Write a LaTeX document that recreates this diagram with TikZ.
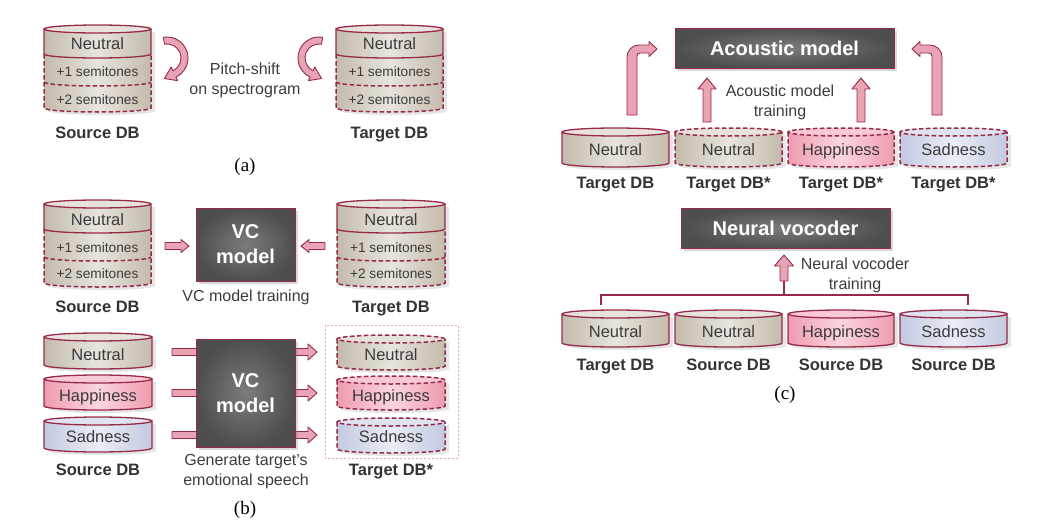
\documentclass[tikz,border=0pt]{standalone}
\usepackage{fontspec}
\setmainfont{Liberation Sans}
\newfontfamily\capfont{Liberation Serif}
\usetikzlibrary{calc,shadows}
\definecolor{dbred}{HTML}{962A48}
\definecolor{apink}{HTML}{E8A4B4}
\definecolor{txtc}{HTML}{3C3C3C}
\definecolor{lblc}{HTML}{333333}
\definecolor{nedark}{HTML}{C3BBAD}
\definecolor{nelight}{HTML}{E8E4DC}
\definecolor{netop}{HTML}{E7E3DC}
\definecolor{hadark}{HTML}{EE9CAF}
\definecolor{halight}{HTML}{FBD5DE}
\definecolor{hatop}{HTML}{F8C8D3}
\definecolor{sadark}{HTML}{C3CAE0}
\definecolor{salight}{HTML}{EAEDF5}
\definecolor{satop}{HTML}{DFE3EF}
\definecolor{boxdark}{HTML}{4E4E4E}
\definecolor{boxlight}{HTML}{7C7C7C}
\def\cry{4pt}
\newcommand\cylfill[5]{%
  \pgfmathsetmacro\crx{(#2-#1)/2}\pgfmathsetmacro\ccx{(#1+#2)/2}%
  \fill[black,opacity=.10] ({#1+4},{#3+3}) -- ({#1+4},{#4+3}) arc[start angle=180,end angle=360,x radius=\crx pt,y radius=\cry] -- ({#2+4},{#3+3}) -- cycle;
  \shade[left color=#5dark,right color=#5dark,middle color=#5light] (#1,#3) -- (#1,#4) arc[start angle=180,end angle=360,x radius=\crx pt,y radius=\cry] -- (#2,#3) arc[start angle=0,end angle=180,x radius=\crx pt,y radius=\cry] -- cycle;
  \fill[#5top] (\ccx,#3) ellipse[x radius=\crx pt,y radius=\cry];
}
\newcommand\dbcyl[6]{%
  \cylfill{#1}{#2}{#3}{#4}{#5}%
  \draw[#6] (\ccx,#3) ellipse[x radius=\crx pt,y radius=\cry];
  \draw[#6] (#1,#3) -- (#1,#4) arc[start angle=180,end angle=360,x radius=\crx pt,y radius=\cry] -- (#2,#3);
}
\newcommand\layercyl[6]{%
  \cylfill{#1}{#2}{#3}{#6}{ne}%
  \draw[cylline] (\ccx,#3) ellipse[x radius=\crx pt,y radius=\cry];
  \draw[cylline] (#1,#3) -- (#1,#4) arc[start angle=180,end angle=360,x radius=\crx pt,y radius=\cry] -- (#2,#3);
  \draw[cyldash] (#1,#4) -- (#1,#6) arc[start angle=180,end angle=360,x radius=\crx pt,y radius=\cry] -- (#2,#4);
  \draw[cyldash] (#1,#5) arc[start angle=180,end angle=360,x radius=\crx pt,y radius=\cry];
}
% horizontal block arrow: x1 x2 y halfshaft halfhead headlen(signed)
\newcommand\harrow[6]{%
  \draw[blockarrow] ({#1},{#3-(#4)}) -- ({#2-(#6)},{#3-(#4)}) -- ({#2-(#6)},{#3-(#5)}) -- ({#2},{#3}) -- ({#2-(#6)},{#3+(#5)}) -- ({#2-(#6)},{#3+(#4)}) -- ({#1},{#3+(#4)}) -- cycle;
}
% vertical up block arrow: x ybottom ytip halfshaft halfhead headlen
\newcommand\uparrowblk[6]{%
  \draw[blockarrow] ({#1-(#4)},{#2}) -- ({#1-(#4)},{#3+(#6)}) -- ({#1-(#5)},{#3+(#6)}) -- ({#1},{#3}) -- ({#1+(#5)},{#3+(#6)}) -- ({#1+(#4)},{#3+(#6)}) -- ({#1+(#4)},{#2}) -- cycle;
}
\begin{document}
\begin{tikzpicture}[x=1pt,y=-1pt,
  cylline/.style={draw=dbred,line width=1.3pt},
  cyldash/.style={draw=dbred,line width=1.5pt,dash pattern=on 4.5pt off 2.5pt},
  blockarrow/.style={fill=apink,draw=dbred,line width=0.9pt,line join=round},
  cyltext/.style={text=txtc,font=\fontsize{16.5}{19}\selectfont,inner sep=0pt,text height=11.8pt,text depth=0pt},
  semitext/.style={text=txtc,font=\fontsize{13.7}{16}\selectfont,inner sep=0pt,text height=9.8pt,text depth=0pt},
  dblabel/.style={text=lblc,font=\bfseries\fontsize{16.5}{19}\selectfont,inner sep=0pt,text height=11.8pt,text depth=0pt},
  plaintext/.style={text=txtc,font=\fontsize{16}{20}\selectfont,align=center,inner sep=0pt},
  captext/.style={text=black,font=\capfont\fontsize{19}{22}\selectfont,inner sep=0pt},
  modelbox/.style={draw=dbred,line width=1pt,inner color=boxlight,outer color=boxdark,
    drop shadow={shadow xshift=2.5pt,shadow yshift=-2.5pt,opacity=.3},
    text=white,font=\bfseries\fontsize{20}{25}\selectfont,align=center,inner sep=0pt},
  dashbox/.style={draw=apink,line width=0.8pt,dash pattern=on 2pt off 2pt}
]
\useasboundingbox (0,0) rectangle (1057,522);

% ================= (a) =================
\layercyl{44}{151}{29}{54}{82}{108}
\node[cyltext] (aSn) at (97.5,44) {Neutral};
\node[semitext] (aS1) at (97.5,72) {+1 semitones};
\node[semitext] (aS2) at (97.5,100) {+2 semitones};
\node[dblabel] (aSl) at (97.5,133) {Source DB};
\layercyl{336}{443}{29}{54}{82}{108}
\node[cyltext] (aTn) at (389.5,44) {Neutral};
\node[semitext] (aT1) at (389.5,72) {+1 semitones};
\node[semitext] (aT2) at (389.5,100) {+2 semitones};
\node[dblabel] (aTl) at (389.5,133) {Target DB};

\coordinate (ca) at (167,58);
\draw[blockarrow] ($(ca)+(100:21pt)$) arc[start angle=100,end angle=-65,radius=21pt]
  -- ($(ca)+(-65:25pt)$) -- ($(ca)+(-65:17.5pt)+(-155:11pt)$) -- ($(ca)+(-65:10pt)$)
  -- ($(ca)+(-65:14pt)$) arc[start angle=-65,end angle=100,radius=14pt] -- cycle;
\coordinate (cb) at (319,58);
\draw[blockarrow] ($(cb)+(80:21pt)$) arc[start angle=80,end angle=245,radius=21pt]
  -- ($(cb)+(245:25pt)$) -- ($(cb)+(245:17.5pt)+(335:11pt)$) -- ($(cb)+(245:10pt)$)
  -- ($(cb)+(245:14pt)$) arc[start angle=245,end angle=80,radius=14pt] -- cycle;
\node[plaintext] (pitch) at (245,80) {Pitch-shift\\on spectrogram};
\node[captext] (capa) at (245,167) {(a)};

% ================= (b) top =================
\layercyl{44}{151}{204}{229}{257}{283}
\node[cyltext] (bSn) at (97.5,220) {Neutral};
\node[semitext] (bS1) at (97.5,248) {+1 semitones};
\node[semitext] (bS2) at (97.5,274) {+2 semitones};
\node[dblabel] (bSl) at (97.5,307) {Source DB};
\layercyl{337}{445}{204}{229}{257}{283}
\node[cyltext] (bTn) at (391,220) {Neutral};
\node[semitext] (bT1) at (391,248) {+1 semitones};
\node[semitext] (bT2) at (391,274) {+2 semitones};
\node[dblabel] (bTl) at (391,307) {Target DB};

\node[modelbox,minimum width=99pt,minimum height=73pt] (vc1) at (245.5,244.5) {VC\\model};
\harrow{165}{189}{246}{3.5}{6.5}{8}
\harrow{325}{301}{246}{3.5}{6.5}{-8}
\node[plaintext] (vctrain) at (246,297) {VC model training};

% ================= (b) bottom =================
\harrow{172}{317}{352}{3.5}{8}{9}
\harrow{172}{317}{393}{3.5}{8}{9}
\harrow{172}{317}{435}{3.5}{8}{9}

\dbcyl{44}{152}{337}{365}{ne}{cylline}
\node[cyltext] (bSrcN) at (98,355) {Neutral};
\dbcyl{44}{152}{379}{406}{ha}{cylline}
\node[cyltext] (bSrcH) at (98,396) {Happiness};
\dbcyl{44}{152}{421}{448}{sa}{cylline}
\node[cyltext] (bSrcS) at (98,437) {Sadness};
\node[dblabel] (bSrcL) at (98,470) {Source DB};

\draw[dashbox] (325,325) rectangle (458,458);
\dbcyl{337}{445}{339}{366}{ne}{cyldash}
\node[cyltext] (bTgtN) at (391,355) {Neutral};
\dbcyl{337}{445}{380}{406}{ha}{cyldash}
\node[cyltext] (bTgtH) at (391,396) {Happiness};
\dbcyl{337}{445}{422}{449}{sa}{cyldash}
\node[cyltext] (bTgtS) at (391,437) {Sadness};
\node[dblabel] (bTgtL) at (391,470) {Target DB*};

\node[modelbox,minimum width=99pt,minimum height=108pt] (vc2) at (245.5,393) {VC\\model};
\node[plaintext] (gen) at (246,472) {Generate target's\\emotional speech};
\node[captext] (capb) at (245,510) {(b)};

% ================= (c) top =================
\node[modelbox,minimum width=219pt,minimum height=40pt] (am) at (784.5,48) {Acoustic model};
\draw[blockarrow] (627,115) -- (627,57) arc[start angle=180,end angle=90,radius=12pt] -- (649,45) -- (649,41.5) -- (657,49) -- (649,56.5) -- (649,53) -- (640,53) arc[start angle=90,end angle=180,radius=3pt] -- (637,115) -- cycle;
\draw[blockarrow] (942,115) -- (942,57) arc[start angle=0,end angle=90,radius=12pt] -- (920,45) -- (920,41.5) -- (912,49) -- (920,56.5) -- (920,53) -- (929,53) arc[start angle=90,end angle=0,radius=3pt] -- (932,115) -- cycle;
\uparrowblk{707}{122}{78}{4}{9}{11}
\uparrowblk{861}{122}{78}{4}{9}{11}
\node[plaintext] (amtrain) at (780,102) {Acoustic model\\training};

\dbcyl{562}{669}{132}{163}{ne}{cylline}
\node[cyltext] (c1) at (615.5,150) {Neutral};
\dbcyl{675}{782}{132}{163}{ne}{cyldash}
\node[cyltext] (c2) at (728.5,150) {Neutral};
\dbcyl{788}{894}{132}{163}{ha}{cyldash}
\node[cyltext] (c3) at (841,150) {Happiness};
\dbcyl{900}{1007}{132}{163}{sa}{cyldash}
\node[cyltext] (c4) at (953.5,150) {Sadness};
\node[dblabel] (c1l) at (615.5,183) {Target DB};
\node[dblabel] (c2l) at (728.5,183) {Target DB*};
\node[dblabel] (c3l) at (841,183) {Target DB*};
\node[dblabel] (c4l) at (953.5,183) {Target DB*};

% ================= (c) bottom =================
\node[modelbox,minimum width=209pt,minimum height=40pt] (nv) at (785.5,228) {Neural vocoder};
\uparrowblk{784}{281}{255}{4}{9.5}{11}
\node[plaintext] (nvtrain) at (855,275) {Neural vocoder\\training};
\coordinate (brL) at (601,305);
\coordinate (brR) at (968,305);
\coordinate (brM) at (784,281);
\draw[dbred,line width=1.2pt] (brL) -- (601,295) -- (968,295) -- (brR);
\draw[dbred,line width=1.2pt] (784,295) -- (brM);

\dbcyl{562}{669}{314}{343}{ne}{cylline}
\node[cyltext] (d1) at (615.5,332) {Neutral};
\dbcyl{675}{782}{314}{343}{ne}{cylline}
\node[cyltext] (d2) at (728.5,332) {Neutral};
\dbcyl{788}{894}{314}{343}{ha}{cylline}
\node[cyltext] (d3) at (841,332) {Happiness};
\dbcyl{900}{1007}{314}{343}{sa}{cylline}
\node[cyltext] (d4) at (953.5,332) {Sadness};
\node[dblabel] (d1l) at (615.5,365) {Target DB};
\node[dblabel] (d2l) at (728.5,365) {Source DB};
\node[dblabel] (d3l) at (841,365) {Source DB};
\node[dblabel] (d4l) at (953.5,365) {Source DB};
\node[captext] (capc) at (785,395) {(c)};
\end{tikzpicture}
\end{document}
